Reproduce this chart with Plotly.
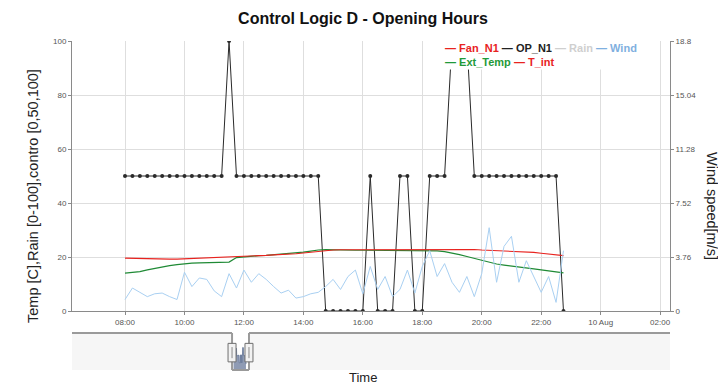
import numpy as np
import pandas as pd
import plotly.graph_objects as go

# ---------------- data ----------------
start_time = "2019-08-09 08:00"
step_minutes = 15

op_n1 = [50, 50, 50, 50, 50, 50, 50, 50, 50, 50,
         50, 50, 50, 50, 100, 50, 50, 50, 50, 50,
         50, 50, 50, 50, 50, 50, 50, 0, 0, 0,
         0, 0, 0, 50, 0, 0, 0, 50, 50, 0,
         0, 50, 50, 50, 100, 100, 100, 50, 50, 50,
         50, 50, 50, 50, 50, 50, 50, 50, 50, 0]

t_int = [19.6, 19.5, 19.4, 19.3, 19.2, 19.2, 19.2, 19.2, 19.3, 19.4,
         19.5, 19.6, 19.7, 19.8, 19.9, 20.0, 20.2, 20.3, 20.5, 20.6,
         20.8, 20.9, 21.0, 21.2, 21.5, 21.8, 22.1, 22.4, 22.6, 22.7,
         22.7, 22.8, 22.8, 22.8, 22.8, 22.8, 22.8, 22.8, 22.8, 22.8,
         22.8, 22.9, 22.9, 22.9, 22.9, 22.9, 22.8, 22.8, 22.6, 22.5,
         22.4, 22.3, 22.1, 21.9, 21.8, 21.7, 21.4, 21.1, 20.8, 20.5]

ext_temp = [14.0, 14.2, 14.6, 15.2, 15.8, 16.3, 16.8, 17.2, 17.5, 17.7,
            17.8, 17.9, 18.0, 18.1, 18.1, 19.8, 20.1, 20.3, 20.5, 20.6,
            20.8, 21.0, 21.2, 21.5, 21.8, 22.2, 22.6, 22.7, 22.6, 22.5,
            22.5, 22.5, 22.5, 22.5, 22.5, 22.5, 22.5, 22.5, 22.5, 22.5,
            22.5, 22.4, 22.3, 22.0, 21.5, 20.9, 20.2, 19.5, 18.6, 18.0,
            17.4, 17.0, 16.7, 16.3, 16.0, 15.6, 15.2, 14.8, 14.4, 14.1]

wind = [0.8, 1.6, 1.3, 1.0, 1.2, 1.25, 1.0, 0.8, 2.7, 1.7,
        2.3, 2.2, 1.4, 1.0, 2.6, 1.6, 2.85, 2.0, 2.6, 2.2,
        1.7, 1.25, 1.45, 0.9, 1.0, 1.2, 1.3, 1.7, 2.2, 1.5,
        2.4, 2.85, 1.2, 3.1, 1.5, 2.4, 1.0, 1.5, 2.85, 1.25,
        3.1, 4.2, 2.4, 3.3, 2.0, 1.3, 2.4, 1.0, 2.6, 5.8,
        2.0, 4.5, 5.2, 2.0, 3.5, 2.4, 1.3, 2.4, 0.6, 4.2]

legend_names = ["Fan_N1", "OP_N1", "Rain", "Wind", "Ext_Temp", "T_int"]
legend_colors = ["#e8231f", "#222222", "#cfcfcf", "#7fb0e0", "#1f9a3a", "#e8231f"]

tick_times = ["2019-08-09 08:00", "2019-08-09 10:00", "2019-08-09 12:00",
              "2019-08-09 14:00", "2019-08-09 16:00", "2019-08-09 18:00",
              "2019-08-09 20:00", "2019-08-09 22:00", "2019-08-10 00:00",
              "2019-08-10 02:00"]
tick_labels = ["08:00", "10:00", "12:00", "14:00", "16:00", "18:00",
               "20:00", "22:00", "10 Aug", "02:00"]
left_ticks = [0, 20, 40, 60, 80, 100]
right_ticks = [0, 3.76, 7.52, 11.28, 15.04, 18.8]
right_tick_labels = ["0", "3.76", "7.52", "11.28", "15.04", "18.8"]

x_window = ["2019-08-09 06:13", "2019-08-10 02:20"]
slider_range = ["2019-08-01 08:00", "2019-08-30 22:45"]

title_text = "Control Logic D - Opening Hours"
y_left_title = "Temp [C],Rain [0-100],contro [0,50,100]"
y_right_title = "Wind speed[m/s]"
x_title = "Time"

# ---------------- figure ----------------
times = pd.date_range(start_time, periods=len(op_n1), freq=f"{step_minutes}min")
combined = np.mean(np.array([op_n1, wind, ext_temp, t_int]), axis=0)

# the page body has an 8px default margin: work in figure coordinates
OFF = 8
W, H = 726 - OFF, 386 - OFF
plot_top, main_bot = 41 - OFF, 311 - OFF
sl_top, sl_bot = 333 - OFF, 370 - OFF
plot_left, plot_right = 72 - OFF, 670 - OFF
mt, mb, ml, mr = plot_top, H - sl_bot, plot_left, W - plot_right
plot_h = H - mt - mb
plot_w = W - ml - mr
main_lo = (sl_bot - main_bot) / plot_h
slider_hi = (sl_bot - sl_top) / plot_h


def px(x):
    return (x - OFF - ml) / plot_w


def py(y):
    return (sl_bot - (y - OFF)) / plot_h


fig = go.Figure()
fig.add_trace(go.Scatter(x=times, y=op_n1, mode="lines+markers", name="OP_N1",
                         line=dict(color="#2a2a2a", width=1),
                         marker=dict(color="#2a2a2a", size=4), showlegend=False))
fig.add_trace(go.Scatter(x=times, y=ext_temp, mode="lines", name="Ext_Temp",
                         line=dict(color="#1f8a35", width=1.2), showlegend=False))
fig.add_trace(go.Scatter(x=times, y=t_int, mode="lines", name="T_int",
                         line=dict(color="#e8231f", width=1.1), showlegend=False))
fig.add_trace(go.Scatter(x=times, y=wind, mode="lines", name="Wind", yaxis="y2",
                         line=dict(color="#a9d0f2", width=1), showlegend=False))
# range-selector overview
fig.add_trace(go.Scatter(x=times, y=combined, mode="lines", xaxis="x2", yaxis="y3",
                         fill="tozeroy", fillcolor="#8f9bb4",
                         line=dict(color="#6f7f9e", width=1), showlegend=False,
                         hoverinfo="skip"))

axis_font = dict(size=8, color="#555555")
grid = "#dedede"
fig.update_layout(
    width=W, height=H,
    margin=dict(l=ml, r=mr, t=mt, b=mb),
    paper_bgcolor="white", plot_bgcolor="white",
    font=dict(family="Liberation Sans, Arial, sans-serif", color="#222"),
    title=dict(text=f"<b>{title_text}</b>", x=(363 - OFF) / W, xanchor="center",
               y=1 - (18 - OFF) / H, yanchor="middle", font=dict(size=16, color="#111")),
    xaxis=dict(type="date", range=x_window, anchor="y", domain=[0, 1],
               tickvals=tick_times, ticktext=tick_labels, tickfont=axis_font,
               showgrid=True, gridcolor=grid, gridwidth=1,
               showline=True, linecolor="#8a8a8a", linewidth=1,
               ticks="outside", ticklen=3, tickcolor="#8a8a8a", zeroline=False),
    yaxis=dict(domain=[main_lo, 1], range=[0, 100], tickvals=left_ticks,
               tickfont=axis_font, showgrid=True, gridcolor=grid, gridwidth=1,
               showline=True, linecolor="#8a8a8a", linewidth=1,
               ticks="outside", ticklen=3, tickcolor="#8a8a8a", zeroline=False),
    yaxis2=dict(overlaying="y", side="right", range=[0, 18.8],
                tickvals=right_ticks, ticktext=right_tick_labels, tickfont=axis_font,
                showgrid=False, showline=True, linecolor="#8a8a8a", linewidth=1,
                ticks="outside", ticklen=3, tickcolor="#8a8a8a", zeroline=False),
    xaxis2=dict(type="date", range=slider_range, anchor="y3", domain=[0, 1],
                visible=False),
    yaxis3=dict(domain=[0, slider_hi], range=[0, 60], visible=False),
    showlegend=False,
)

# legend in dygraphs style (coloured text)
parts = [f"<b><span style='color:{c}'>— {n}</span></b>"
         for n, c in zip(legend_names, legend_colors)]
legend_text = " ".join(parts[:4]) + "<br>" + " ".join(parts[4:])
fig.add_annotation(text=legend_text, xref="paper", yref="paper",
                   x=px(443), y=py(40), xanchor="left", yanchor="top",
                   align="left", showarrow=False, bgcolor="white",
                   font=dict(size=11), borderpad=1)

# axis titles
fig.add_annotation(text=y_left_title, xref="paper", yref="paper",
                   x=px(33), y=py(196), textangle=-90, showarrow=False,
                   font=dict(size=14.5, color="#222"), xanchor="center", yanchor="middle")
fig.add_annotation(text=y_right_title, xref="paper", yref="paper",
                   x=px(712), y=py(206), textangle=90, showarrow=False,
                   font=dict(size=14.5, color="#222"), xanchor="center", yanchor="middle")
fig.add_annotation(text=x_title, xref="paper", yref="paper",
                   x=px(363), y=py(377), showarrow=False,
                   font=dict(size=13, color="#222"), xanchor="center", yanchor="middle")

# range selector decoration: masks, outline, handles
mask = "rgba(240,240,240,0.6)"
outline = dict(color="#9a9a9a", width=2)
shapes = [
    dict(type="rect", xref="x2", yref="y3 domain", x0=slider_range[0], x1=x_window[0],
         y0=0, y1=1, fillcolor=mask, line=dict(width=0)),
    dict(type="rect", xref="x2", yref="y3 domain", x0=x_window[1], x1=slider_range[1],
         y0=0, y1=1, fillcolor=mask, line=dict(width=0)),
    dict(type="line", xref="x2", yref="y3 domain", x0=slider_range[0], x1=x_window[0],
         y0=1, y1=1, line=outline),
    dict(type="line", xref="x2", yref="y3 domain", x0=x_window[0], x1=x_window[0],
         y0=1, y1=0, line=outline),
    dict(type="line", xref="x2", yref="y3 domain", x0=x_window[0], x1=x_window[1],
         y0=0, y1=0, line=outline),
    dict(type="line", xref="x2", yref="y3 domain", x0=x_window[1], x1=x_window[1],
         y0=0, y1=1, line=outline),
    dict(type="line", xref="x2", yref="y3 domain", x0=x_window[1], x1=slider_range[1],
         y0=1, y1=1, line=outline),
]
for xa in x_window:
    shapes.append(dict(type="rect", xref="x2", yref="y3 domain", xsizemode="pixel",
                       xanchor=xa, x0=-4, x1=4, y0=0.22, y1=0.72,
                       fillcolor="#f2f2f2", line=dict(color="#6f6f6f", width=1)))
    shapes.append(dict(type="line", xref="x2", yref="y3 domain", xsizemode="pixel",
                       xanchor=xa, x0=0, x1=0, y0=0.32, y1=0.62,
                       line=dict(color="#8a8a8a", width=1)))
fig.update_layout(shapes=shapes)

fig.write_html("out.html")
